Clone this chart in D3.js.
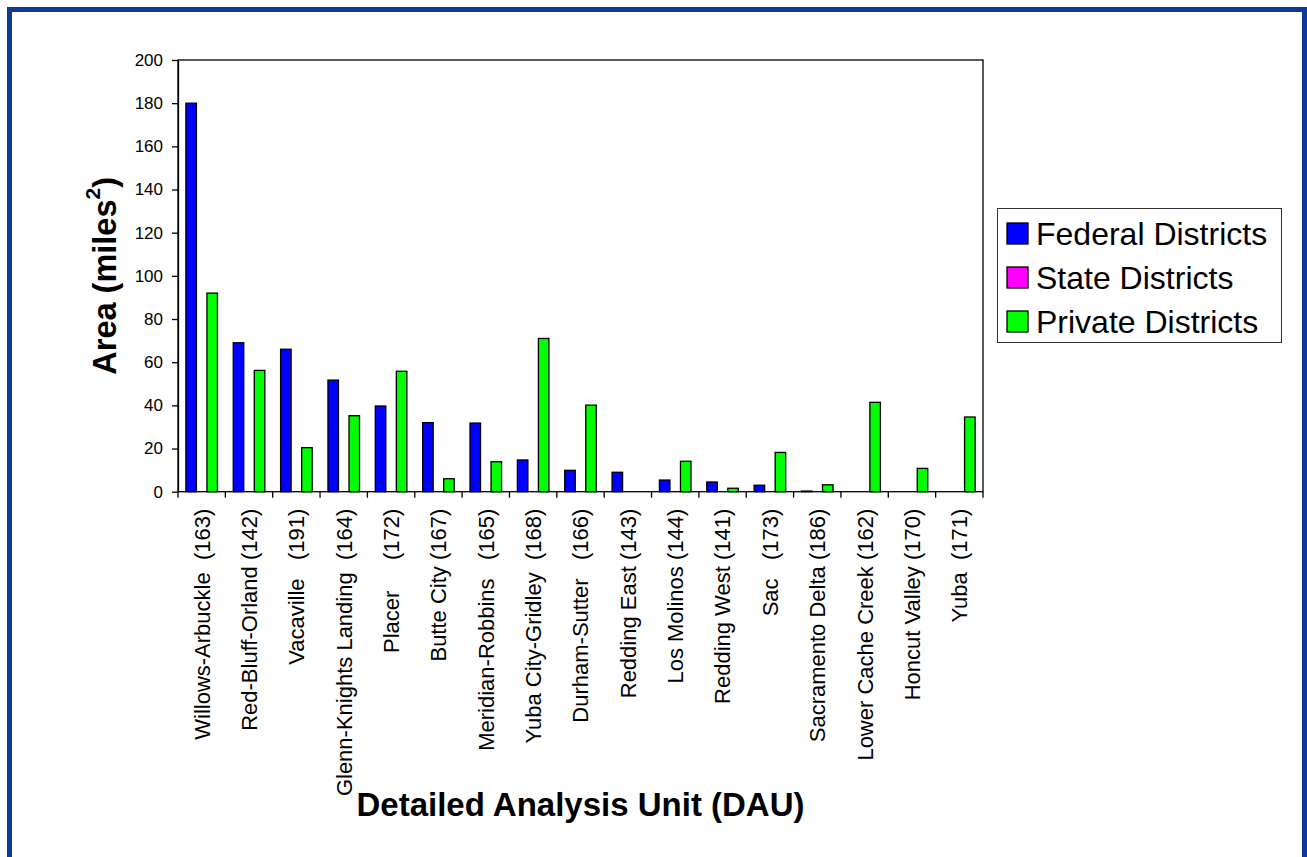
<!DOCTYPE html>
<html>
<head>
<meta charset="utf-8">
<script src="https://cdn.jsdelivr.net/npm/d3@7"></script>
<style>
  body { margin: 0; background: #fff; }
  svg text { font-family: Arial, "Liberation Sans", sans-serif; white-space: pre; }
</style>
</head>
<body>
<div id="chart"></div>
<script>
// Detailed Analysis Units (x categories)
var units = [
    "Willows-Arbuckle  (163)", "Red-Bluff-Orland (142)", "Vacaville   (191)",
    "Glenn-Knights Landing  (164)", "Placer     (172)", "Butte City (167)",
    "Meridian-Robbins   (165)", "Yuba City-Gridley  (168)", "Durham-Sutter   (166)",
    "Redding East (143)", "Los Molinos (144)", "Redding West (141)",
    "Sac   (173)", "Sacramento Delta (186)", "Lower Cache Creek (162)",
    "Honcut Valley (170)", "Yuba  (171)"
];
var seriesNames = ["Federal Districts", "State Districts", "Private Districts"];
var seriesColors = ["#0000ff", "#ff00ff", "#00ff00"];

// area, miles^2
var federal = [180, 69, 66, 51.7, 39.7, 32, 31.8, 14.7, 9.9, 9, 5.4, 4.5, 3, 0.3, 0, 0, 0];
var state   = [0, 0, 0, 0, 0, 0, 0, 0, 0, 0, 0, 0, 0, 0, 0, 0, 0];
var privat  = [92, 56.2, 20.4, 35.2, 55.8, 6, 13.9, 71, 40.1, 0, 14.1, 1.6, 18.2, 3.2, 41.4, 10.8, 34.6];
var yTicks = [0, 20, 40, 60, 80, 100, 120, 140, 160, 180, 200];

var W = 1307, H = 857;
var plotL = 178, plotR = 983, plotT = 60, plotB = 491.7;

var svg = d3.select("#chart").append("svg")
    .attr("width", W)
    .attr("height", H);

// blue frame round the whole picture
svg.append("rect")
    .attr("x", 9.5).attr("y", 9.5)
    .attr("width", 1295).attr("height", 900)
    .attr("fill", "none")
    .attr("stroke", "#0d3a97")
    .attr("stroke-width", 5);

var x = d3.scaleBand().domain(units).range([plotL, plotR]).padding(0);
var xs = d3.scaleBand().domain(seriesNames).range([0, x.bandwidth()])
    .paddingInner(0).paddingOuter(0.75);
var y = d3.scaleLinear().domain([0, 200]).range([plotB, plotT]);

// plot area border
svg.append("rect")
    .attr("x", plotL).attr("y", plotT)
    .attr("width", plotR - plotL).attr("height", plotB - plotT)
    .attr("fill", "none").attr("stroke", "#000").attr("stroke-width", 1.3);

// y axis
var yAxis = svg.append("g")
    .attr("transform", "translate(" + plotL + ",0)")
    .call(d3.axisLeft(y).tickValues(yTicks).tickSize(6).tickPadding(9).tickSizeOuter(0));
yAxis.select(".domain").attr("stroke-width", 1.3);
yAxis.selectAll(".tick line").attr("stroke-width", 1.3);
yAxis.selectAll("text")
    .attr("font-size", 17)
    .attr("fill", "#000")
    .style("font-family", "Arial, 'Liberation Sans', sans-serif");

// x ticks on the band boundaries
var bounds = units.map(function (d) { return x(d); }).concat([plotR]);
svg.append("g").selectAll("line")
    .data(bounds)
    .enter().append("line")
    .attr("x1", d => d).attr("x2", d => d)
    .attr("y1", plotB).attr("y2", plotB + 6)
    .attr("stroke", "#000").attr("stroke-width", 1.3);

svg.append("g").selectAll("text")
    .data(units)
    .enter().append("text")
    .attr("xml:space", "preserve")
    .attr("transform", d => "translate(" + (x(d) + x.bandwidth() / 2) + "," + (plotB + 17) + ") rotate(-90)")
    .attr("text-anchor", "end")
    .attr("dy", "0.36em")
    .attr("font-size", 22)
    .text(d => d);

// bars
var series = [federal, state, privat];
var bars = [];
series.forEach(function (vals, s) {
    vals.forEach(function (v, i) {
        if (v > 0) bars.push({ unit: units[i], s: s, v: v });
    });
});
svg.append("g").selectAll("rect")
    .data(bars)
    .enter().append("rect")
    .attr("x", d => x(d.unit) + xs(seriesNames[d.s]))
    .attr("y", d => y(d.v))
    .attr("width", xs.bandwidth())
    .attr("height", d => plotB - y(d.v))
    .attr("fill", d => seriesColors[d.s])
    .attr("stroke", "#000")
    .attr("stroke-width", 1.3);

// axis titles
svg.append("text")
    .attr("transform", "translate(" + (plotL + plotR) / 2 + ",816)")
    .attr("text-anchor", "middle")
    .attr("font-size", 33)
    .attr("font-weight", "bold")
    .text("Detailed Analysis Unit (DAU)");

var yt = svg.append("text")
    .attr("transform", "translate(116," + (plotT + plotB) / 2 + ") rotate(-90)")
    .attr("text-anchor", "middle")
    .attr("font-size", 32.5)
    .attr("font-weight", "bold");
yt.append("tspan").text("Area (miles");
yt.append("tspan").attr("font-size", 21).attr("dy", "-0.75em").text("2");
yt.append("tspan").attr("dy", "0.48em").text(")");

// legend
var lg = svg.append("g");
lg.append("rect")
    .attr("x", 997.5).attr("y", 208.5)
    .attr("width", 284).attr("height", 134)
    .attr("fill", "#fff").attr("stroke", "#333").attr("stroke-width", 1);
var item = lg.selectAll("g.item")
    .data(seriesNames)
    .enter().append("g")
    .attr("class", "item")
    .attr("transform", (d, i) => "translate(1007," + (233.5 + i * 44) + ")");
item.append("rect")
    .attr("x", 0).attr("y", -10.5)
    .attr("width", 21).attr("height", 21)
    .attr("fill", (d, i) => seriesColors[i])
    .attr("stroke", "#000").attr("stroke-width", 1.3);
item.append("text")
    .attr("x", 29)
    .attr("dy", "0.35em")
    .attr("font-size", 32)
    .text(d => d);
</script>
</body>
</html>
